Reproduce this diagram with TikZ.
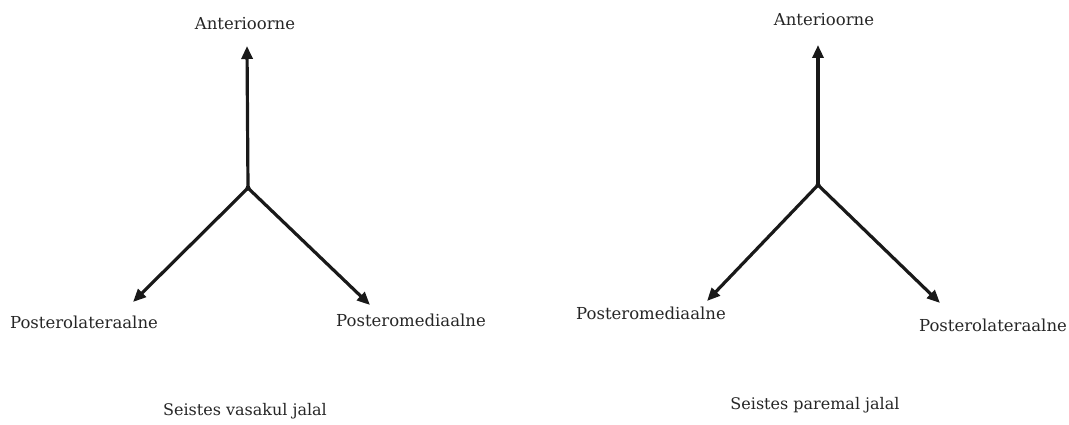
\documentclass[tikz,border=0pt]{standalone}
\usepackage{fontspec}
\setmainfont{DejaVu Serif}
\usetikzlibrary{arrows.meta}
\begin{document}
\begin{tikzpicture}[x=1pt,y=-1pt,
  lbl/.style={inner sep=0pt,text=black!85,font=\fontsize{16.5}{18}\selectfont},
  captxt/.style={inner sep=0pt,text=black!85,font=\fontsize{16}{18}\selectfont},
  ray/.style={line width=3.2pt,draw=black!90,-{Triangle[length=13pt,width=11pt]}},
  hub/.style={circle,fill=black,inner sep=0pt,minimum size=5pt}]
\useasboundingbox (0,0) rectangle (1069,425);
% left diagram
\node[hub] (cl) at (248,188) {};
\coordinate (tl1) at (247,46);
\coordinate (tl2) at (133,302);
\coordinate (tl3) at (370,305);
\node[lbl] (al) at (245,24) {Anterioorne};
\node[lbl] (pll) at (84,322) {Posterolateraalne};
\node[lbl] (pml) at (411,320) {Posteromediaalne};
\node[captxt] (sl) at (245,411) {Seistes vasakul jalal};
\draw[ray] (cl.center) -- (tl1);
\draw[ray] (cl.center) -- (tl2);
\draw[ray] (cl.center) -- (tl3);
% right diagram
\node[hub] (cr) at (818,185) {};
\coordinate (tr1) at (818,45);
\coordinate (tr2) at (707,301);
\coordinate (tr3) at (940,303);
\node[lbl] (ar) at (824,20) {Anterioorne};
\node[lbl] (pmr) at (651,313) {Posteromediaalne};
\node[lbl] (plr) at (993,325) {Posterolateraalne};
\node[captxt] (sr) at (815,405) {Seistes paremal jalal};
\draw[ray] (cr.center) -- (tr1);
\draw[ray] (cr.center) -- (tr2);
\draw[ray] (cr.center) -- (tr3);
\end{tikzpicture}
\end{document}
